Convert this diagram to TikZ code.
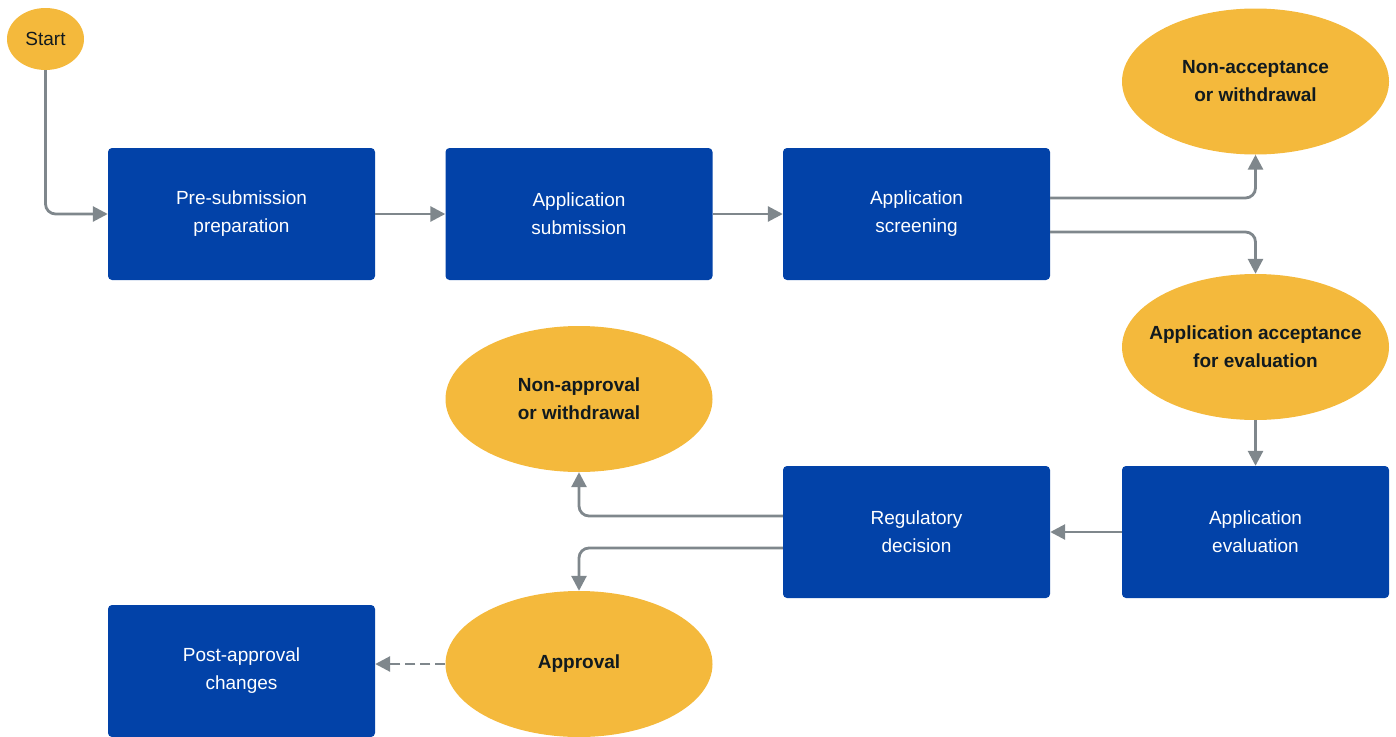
\documentclass[tikz,border=0pt]{standalone}
\usepackage{fontspec}
\setmainfont{Liberation Sans}
\usetikzlibrary{shapes.geometric,arrows.meta}
\definecolor{boxblue}{HTML}{0242A8}
\definecolor{ovalfill}{HTML}{F4B93C}
\definecolor{connc}{HTML}{7F878C}
\definecolor{ink}{HTML}{111A1F}
\begin{document}
\begin{tikzpicture}[x=1pt,y=-1pt,
  stepbox/.style={rectangle, rounded corners=4pt, fill=boxblue, text=white,
    minimum width=267pt, minimum height=132pt, inner sep=0pt, align=center,
    font=\fontsize{19}{28}\selectfont},
  term/.style={ellipse, fill=ovalfill, text=ink, minimum width=267pt,
    minimum height=146pt, inner xsep=-40pt, inner ysep=0pt, align=center,
    font=\fontsize{19}{28}\selectfont\bfseries},
  conn/.style={draw=connc, line width=2.8pt, rounded corners=10pt,
    -{Triangle[length=15pt,width=15pt]}}]
\useasboundingbox (0,0) rectangle (1396,736);
\begin{scope}
\clip (0,0) rectangle (1396,736);
\node[ellipse, fill=ovalfill, text=ink, minimum width=77pt, minimum height=62pt,
  inner sep=0pt, font=\fontsize{19}{28}\selectfont] (start) at (45.5,39) {Start};
\node[stepbox] (b1) at (241.5,214) {Pre-submission\\preparation};
\node[stepbox] (b2) at (579,214) {Application\\submission};
\node[stepbox] (b3) at (916.5,214) {Application\\screening};
\node[term] (nonacc) at (1255.5,81.5) {Non-acceptance\\or withdrawal};
\node[term] (accept) at (1255.5,347) {Application acceptance\\for evaluation};
\node[stepbox] (eval) at (1255.5,532) {Application\\evaluation};
\node[stepbox] (reg) at (916.5,532) {Regulatory\\decision};
\node[term] (nonappr) at (579,399) {Non-approval\\or withdrawal};
\node[term] (appr) at (579,664) {Approval};
\node[stepbox] (post) at (241.5,671) {Post-approval\\changes};
\draw[conn] (start.south) |- (b1.west);
\draw[conn] (b1.east) -- (b2.west);
\draw[conn] (b2.east) -- (b3.west);
\draw[conn] ([yshift=16pt]b3.east) -| (nonacc.south);
\draw[conn] ([yshift=-18pt]b3.east) -| (accept.north);
\draw[conn] (accept.south) -- (eval.north);
\draw[conn] (eval.west) -- (reg.east);
\draw[conn] ([yshift=16pt]reg.west) -| (nonappr.south);
\draw[conn] ([yshift=-16pt]reg.west) -| (appr.north);
\draw[conn, dashed, dash pattern=on 10pt off 5pt] (appr.west) -- (appr.west -| post.east);
\end{scope}
\end{tikzpicture}
\end{document}
